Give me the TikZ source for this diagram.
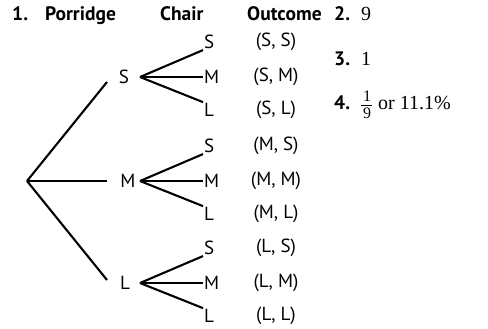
\documentclass[tikz,border=0pt]{standalone}
\usepackage{fontspec}
\setmainfont{Liberation Serif}
\newfontfamily\mysans{PT Sans}
\begin{document}
\begin{tikzpicture}[x=1pt,y=-1pt,
  lab/.style={font=\mysans\fontsize{19}{20}\selectfont, inner sep=1pt},
  hdr/.style={font=\mysans\bfseries\fontsize{19.5}{21}\selectfont, inner sep=0pt, anchor=base west},
  num/.style={font=\fontsize{20}{22}\selectfont, inner sep=0pt, anchor=base west},
  fr/.style={font=\fontsize{16}{16}\selectfont, inner sep=0pt, minimum width=11pt},
  br/.style={line width=2.1pt}]
\useasboundingbox (0,0) rectangle (488,329);
% header
\node[hdr] (h1) at (12,21) {1.};
\node[hdr] (h2) at (45,21) {Porridge};
\node[hdr] (h3) at (160,21) {Chair};
\node[hdr] (h4) at (247,21) {Outcome};
% right answers
\node[hdr] (a2) at (334,21) {2.};
\node[num] (a2v) at (361,21) {9};
\node[hdr] (a3) at (334,66) {3.};
\node[num] (a3v) at (361,66) {1};
\node[hdr] (a4) at (334,110) {4.};
\node[fr, anchor=base] (fn) at (367,102) {1};
\node[fr, anchor=base] (fd) at (367,118) {9};
\draw[line width=0.8pt] (fn.base west) ++(0,3) -- ++(11,0);
\node[num] (a4v) at (378,110) {or 11.1\%};
% tree
\coordinate (root) at (27,181);
\coordinate (e1) at (107,82);
\coordinate (e2) at (107,181);
\coordinate (e3) at (107,280);
\node[lab] (p1) at (124,77) {S};
\node[lab] (p2) at (128,181) {M};
\node[lab] (p3) at (125,283) {L};
\draw[br] (root) -- (e1);
\draw[br] (root) -- (e2);
\draw[br] (root) -- (e3);
\foreach \i/\y/\a in {1/77/S, 2/181/M, 3/283/L}{
  \coordinate (f\i) at (140,\y);
  \node[lab,anchor=west] (c\i1) at (203,\y-35) {S};
  \node[lab,anchor=west] (c\i2) at (203,\y) {M};
  \node[lab,anchor=west] (c\i3) at (203,\y+33) {L};
  \draw[br] (f\i) -- (c\i1.south west);
  \draw[br] (f\i) -- (c\i2.west);
  \draw[br] (f\i) -- (c\i3.north west);
  \node[lab] (o\i1) at (276,\y-35) {(\a, S)};
  \node[lab] (o\i2) at (276,\y) {(\a, M)};
  \node[lab] (o\i3) at (276,\y+33) {(\a, L)};
}
\end{tikzpicture}
\end{document}
